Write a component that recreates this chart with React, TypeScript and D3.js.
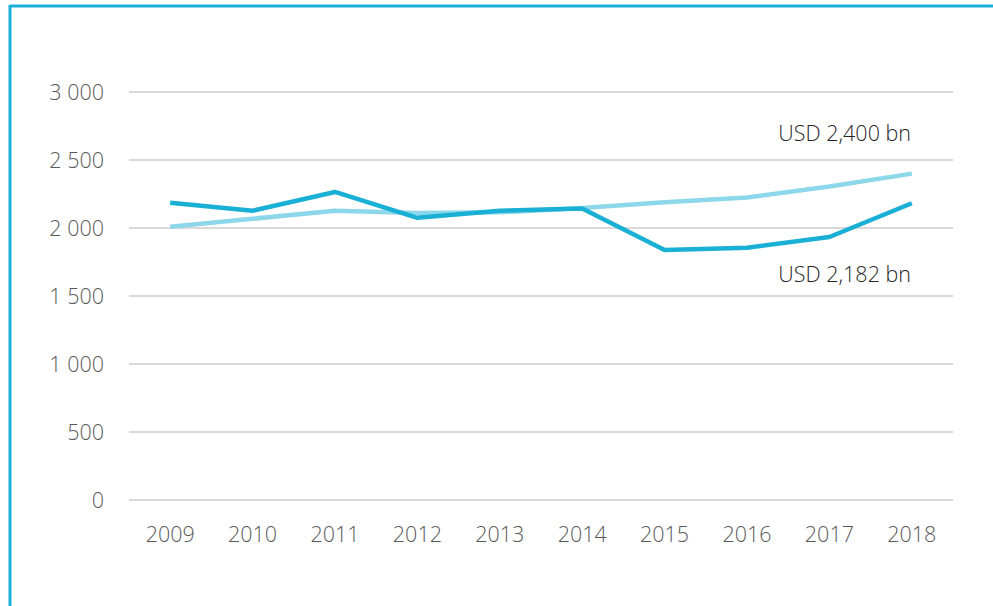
import React from "react";
import * as d3 from "d3";

const years = ["2009", "2010", "2011", "2012", "2013", "2014", "2015", "2016", "2017", "2018"];
const actual = [2185, 2127, 2265, 2075, 2127, 2143, 1838, 1855, 1934, 2182];
const trend = [2010, 2068, 2127, 2110, 2115, 2147, 2190, 2225, 2305, 2400];
const yTicks = [0, 500, 1000, 1500, 2000, 2500, 3000];
const labelTrend = "USD 2,400 bn";
const labelActual = "USD 2,182 bn";

const W = 993;
const H = 606;
const font = "'Open Sans', sans-serif";
const fs = 21.5;

export default function App() {
  const x = d3.scaleBand<string>().domain(years).range([129, 953]);
  const y = d3.scaleLinear().domain([0, 3000]).range([500, 92]);
  const fmt = d3.formatLocale({ decimal: ".", thousands: " ", grouping: [3], currency: ["", ""] }).format(",d");
  const cx = (d: string) => (x(d) as number) + x.bandwidth() / 2;
  const line = d3
    .line<number>()
    .x((_, i) => cx(years[i]))
    .y((v) => y(v));

  return (
    <div style={{ position: "fixed", left: 0, top: 0 }}>
      <svg width={W} height={H} style={{ display: "block", background: "#fff" }}>
        <line x1={10} x2={W} y1={6} y2={6} stroke="#1AAFD6" strokeWidth={3} />
        <line x1={10} x2={10} y1={5} y2={H} stroke="#1AAFD6" strokeWidth={3} />
        {yTicks.map((t) => (
          <g key={t}>
            <line x1={129} x2={953} y1={y(t)} y2={y(t)} stroke="#D9D9D9" strokeWidth={2} />
            <text
              x={104}
              y={y(t) + 8}
              textAnchor="end"
              fontFamily={font}
              fontWeight={300}
              fontSize={fs}
              fill="#595959"
            >
              {fmt(t)}
            </text>
          </g>
        ))}
        {years.map((yr) => (
          <text key={yr} x={cx(yr)} y={542} textAnchor="middle" fontFamily={font} fontWeight={300} fontSize={fs} fill="#595959">
            {yr}
          </text>
        ))}
        <path d={line(trend) || ""} fill="none" stroke="#8DD7EA" strokeWidth={4.5} strokeLinejoin="round" />
        <path d={line(actual) || ""} fill="none" stroke="#1AAFD5" strokeWidth={4.5} strokeLinejoin="round" />
        <text x={911} y={141} textAnchor="end" fontFamily={font} fontWeight={300} fontSize={fs} fill="#262626">
          {labelTrend}
        </text>
        <text x={911} y={282} textAnchor="end" fontFamily={font} fontWeight={300} fontSize={fs} fill="#262626">
          {labelActual}
        </text>
      </svg>
    </div>
  );
}
